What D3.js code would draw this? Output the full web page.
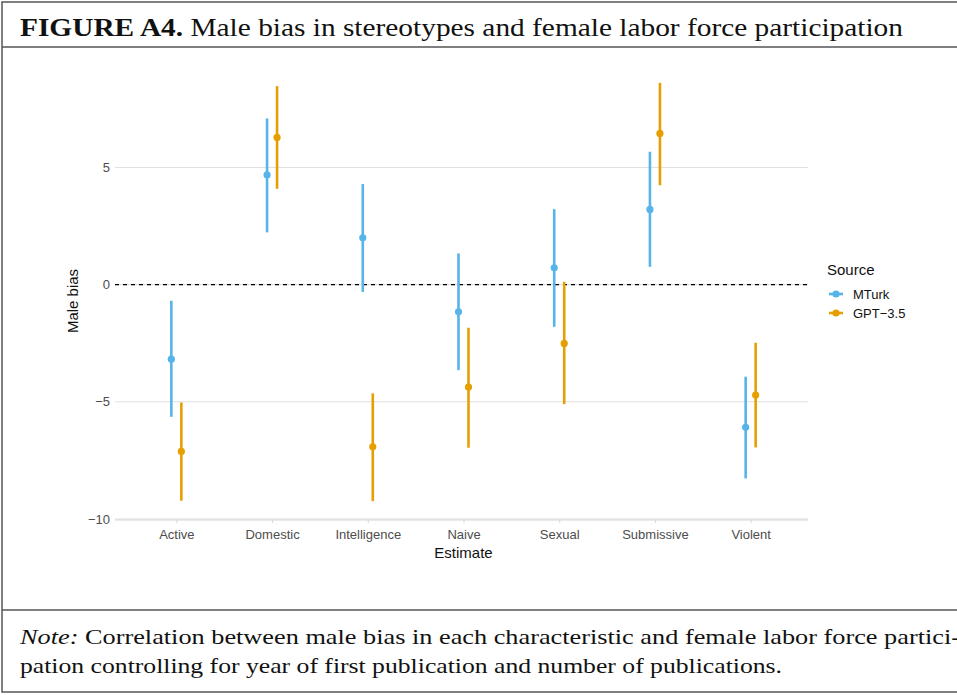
<!DOCTYPE html>
<html>
<head>
<meta charset="utf-8">
<script src="https://cdn.jsdelivr.net/npm/d3@7"></script>
<style>
  html, body { margin: 0; padding: 0; background: #fff; }
  svg { display: block; }
</style>
</head>
<body>
<svg id="fig" width="957" height="695"></svg>
<script>
// Stereotype categories and estimates (point, lower, upper) by source
const categories = ["Active", "Domestic", "Intelligence", "Naive", "Sexual", "Submissive", "Violent"];
const sources = ["MTurk", "GPT\u22123.5"];
const mturkEst   = [-3.18, 4.68, 2.00, -1.16, 0.72, 3.21, -6.09];
const mturkLow   = [-5.64, 2.23, -0.31, -3.65, -1.80, 0.76, -8.27];
const mturkHigh  = [-0.69, 7.09, 4.29, 1.33, 3.22, 5.67, -3.93];
const gptEst     = [-7.12, 6.28, -6.92, -4.37, -2.51, 6.45, -4.71];
const gptLow     = [-9.22, 4.09, -9.24, -6.96, -5.10, 4.24, -6.95];
const gptHigh    = [-5.03, 8.47, -4.64, -1.84, 0.12, 8.61, -2.48];
const yTicks = [-10, -5, 0, 5];
const colors = ["#56B4E9", "#E69F00"];

const rows = [];
categories.forEach((c, i) => {
  rows.push({ cat: c, src: sources[0], est: mturkEst[i], lo: mturkLow[i], hi: mturkHigh[i] });
  rows.push({ cat: c, src: sources[1], est: gptEst[i], lo: gptLow[i], hi: gptHigh[i] });
});

const svg = d3.select("#fig");
const serif = "'Liberation Serif', 'DejaVu Serif', serif";
const sans = "'Liberation Sans', Arial, sans-serif";

// Figure frame and rules
svg.append("rect").attr("x", 2).attr("y", 2).attr("width", 980).attr("height", 690)
  .attr("fill", "none").attr("stroke", "#555").attr("stroke-width", 1.5);
svg.append("line").attr("x1", 2).attr("x2", 957).attr("y1", 47).attr("y2", 47)
  .attr("stroke", "#555").attr("stroke-width", 1.5);
svg.append("line").attr("x1", 2).attr("x2", 957).attr("y1", 610).attr("y2", 610)
  .attr("stroke", "#555").attr("stroke-width", 1.5);

// Title
const title = svg.append("text").attr("x", 20).attr("y", 36)
  .attr("font-family", serif).attr("font-size", 26).attr("fill", "#111")
  .attr("textLength", 883).attr("lengthAdjust", "spacingAndGlyphs");
title.append("tspan").attr("font-weight", "bold").text("FIGURE A4.");
title.append("tspan").text(" Male bias in stereotypes and female labor force participation");

// Note
const note1 = svg.append("text").attr("x", 20).attr("y", 644)
  .attr("font-family", serif).attr("font-size", 22).attr("fill", "#111")
  .attr("textLength", 940).attr("lengthAdjust", "spacingAndGlyphs");
note1.append("tspan").attr("font-style", "italic").text("Note:");
note1.append("tspan").text(" Correlation between male bias in each characteristic and female labor force partici-");
svg.append("text").attr("x", 20).attr("y", 673)
  .attr("font-family", serif).attr("font-size", 22).attr("fill", "#111")
  .attr("textLength", 762).attr("lengthAdjust", "spacingAndGlyphs")
  .text("pation controlling for year of first publication and number of publications.");

// Panel geometry
const panel = { left: 115, right: 808, top: 62, bottom: 522 };
const x = d3.scalePoint().domain(categories)
  .range([panel.left + 2, panel.right + 2]).padding(0.62);
const y = d3.scaleLinear().domain([-10.13, 9.5]).range([panel.bottom, panel.top]);
const dodge = d3.scalePoint().domain(sources).range([-5, 5]);

// Horizontal gridlines
svg.append("g").selectAll("line").data(yTicks).join("line")
  .attr("x1", panel.left).attr("x2", panel.right)
  .attr("y1", d => y(d)).attr("y2", d => y(d))
  .attr("stroke", "#e0e0e0").attr("stroke-width", 1.1);

// Y axis labels
svg.append("g").selectAll("text").data(yTicks).join("text")
  .attr("x", 110).attr("y", d => y(d)).attr("dy", "0.35em")
  .attr("text-anchor", "end").attr("font-family", sans).attr("font-size", 13)
  .attr("fill", "#4d4d4d").text(d => d < 0 ? "\u2212" + Math.abs(d) : d);

// X axis line, ticks and labels
const xAxis = d3.axisBottom(x).tickSize(3).tickPadding(7);
const gx = svg.append("g").attr("transform", `translate(0,${y(-10) + 1})`).call(xAxis);
gx.select(".domain").attr("stroke", "#d6d6d6").attr("stroke-width", 1.1)
  .attr("d", `M${panel.left},0H${panel.right}`);
gx.selectAll(".tick line").attr("stroke", "#d6d6d6");
gx.selectAll(".tick text").attr("font-family", sans).attr("font-size", 13).attr("fill", "#4d4d4d");

// Axis titles
svg.append("text").attr("x", x("Naive")).attr("y", 558)
  .attr("text-anchor", "middle").attr("font-family", sans).attr("font-size", 15)
  .attr("fill", "#111").text("Estimate");
svg.append("text").attr("transform", "translate(78,301) rotate(-90)")
  .attr("text-anchor", "middle").attr("font-family", sans).attr("font-size", 15)
  .attr("fill", "#111").text("Male bias");

// Zero reference line
svg.append("line").attr("x1", panel.left).attr("x2", panel.right)
  .attr("y1", y(0)).attr("y2", y(0))
  .attr("stroke", "#000").attr("stroke-width", 1.2).attr("stroke-dasharray", "4,4");

// Error bars and point estimates
const color = d3.scaleOrdinal().domain(sources).range(colors);
const marks = svg.append("g").selectAll("g").data(rows).join("g")
  .attr("transform", d => `translate(${x(d.cat) + dodge(d.src)},0)`);
marks.append("line").attr("y1", d => y(d.lo)).attr("y2", d => y(d.hi))
  .attr("stroke", d => color(d.src)).attr("stroke-width", 2.6);
marks.append("circle").attr("cy", d => y(d.est)).attr("r", 3.6)
  .attr("fill", d => color(d.src));

// Legend
const lg = svg.append("g").attr("transform", "translate(827,0)");
lg.append("text").attr("x", 0).attr("y", 275).attr("font-family", sans)
  .attr("font-size", 15).attr("fill", "#111").text("Source");
const items = lg.selectAll("g.item").data(sources).join("g")
  .attr("transform", (d, i) => `translate(0,${294 + i * 19})`);
items.append("line").attr("x1", 2).attr("x2", 16).attr("stroke", d => color(d)).attr("stroke-width", 2.6);
items.append("circle").attr("cx", 9).attr("r", 3.6).attr("fill", d => color(d));
items.append("text").attr("x", 26).attr("dy", "0.35em").attr("font-family", sans)
  .attr("font-size", 13).attr("fill", "#111").text(d => d);
</script>
</body>
</html>
